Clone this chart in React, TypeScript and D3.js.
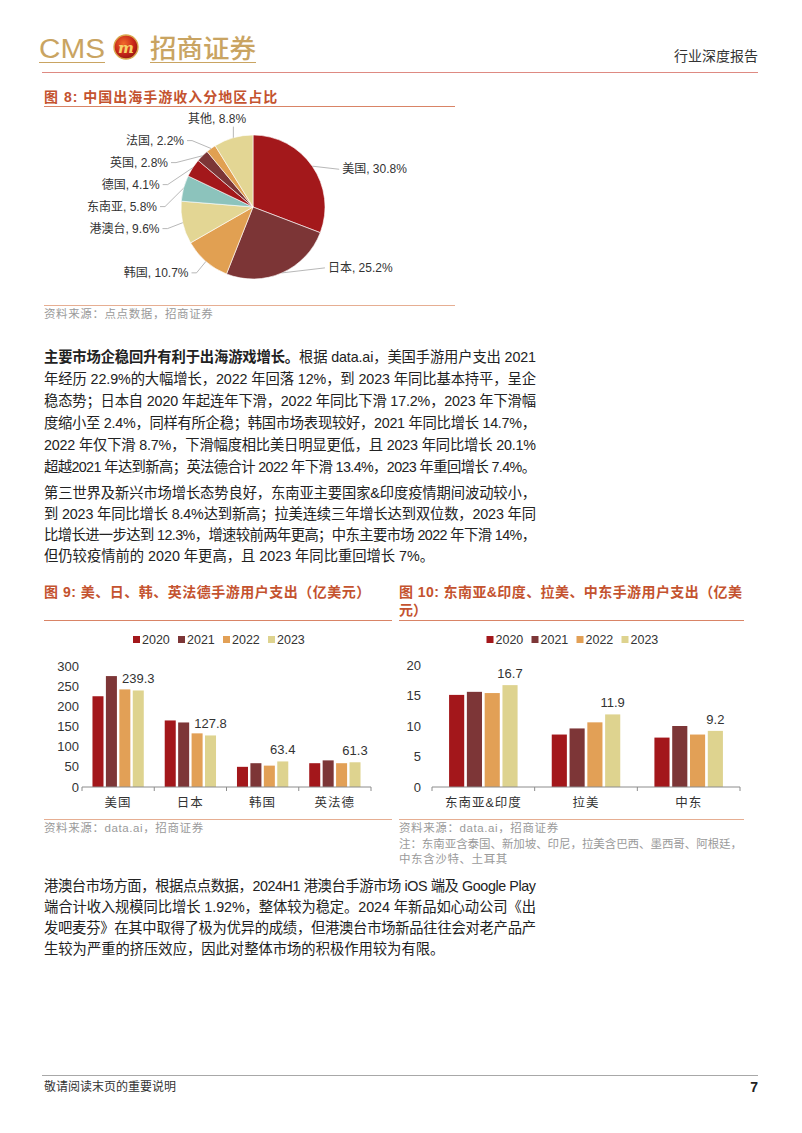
import React from 'react';
import * as d3 from 'd3';

// ---------- data ----------
const pieLabels = ['美国', '日本', '韩国', '港澳台', '东南亚', '德国', '英国', '法国', '其他'];
const pieValues = [30.8, 25.2, 10.7, 9.6, 5.8, 4.1, 2.8, 2.2, 8.8];
const pieColors = ['#A3181B', '#7C3536', '#E1A052', '#E3D694', '#8CC3BC', '#A3181B', '#7C3536', '#E1A052', '#E3D694'];

const years = ['2020', '2021', '2022', '2023'];
const yearColors = ['#A3171B', '#7D3637', '#E2A056', '#DED38F'];

const c1Categories = ['美国', '日本', '韩国', '英法德'];
const c1v2020 = [225, 165, 50, 59];
const c1v2021 = [275, 160, 59, 66];
const c1v2022 = [242, 133, 53, 59];
const c1v2023 = [239.3, 127.8, 63.4, 61.3];
const c1Ticks = [0, 50, 100, 150, 200, 250, 300];

const c2Categories = ['东南亚&印度', '拉美', '中东'];
const c2v2020 = [15.1, 8.6, 8.1];
const c2v2021 = [15.6, 9.6, 10.0];
const c2v2022 = [15.4, 10.6, 8.6];
const c2v2023 = [16.7, 11.9, 9.2];
const c2Ticks = [0, 5, 10, 15, 20];

const para1Lead = '主要市场企稳回升有利于出海游戏增长。';
const para1 = [
  '根据 data.ai，美国手游用户支出 2021',
  '年经历 22.9%的大幅增长，2022 年回落 12%，到 2023 年同比基本持平，呈企',
  '稳态势；日本自 2020 年起连年下滑，2022 年同比下滑 17.2%，2023 年下滑幅',
  '度缩小至 2.4%，同样有所企稳；韩国市场表现较好，2021 年同比增长 14.7%，',
  '2022 年仅下滑 8.7%，下滑幅度相比美日明显更低，且 2023 年同比增长 20.1%',
  '超越2021 年达到新高；英法德合计 2022 年下滑 13.4%，2023 年重回增长 7.4%。',
];
const para2 = [
  '第三世界及新兴市场增长态势良好，东南亚主要国家&印度疫情期间波动较小，',
  '到 2023 年同比增长 8.4%达到新高；拉美连续三年增长达到双位数，2023 年同',
  '比增长进一步达到 12.3%，增速较前两年更高；中东主要市场 2022 年下滑 14%，',
  '但仍较疫情前的 2020 年更高，且 2023 年同比重回增长 7%。',
];
const para3 = [
  '港澳台市场方面，根据点点数据，2024H1 港澳台手游市场 iOS 端及 Google Play',
  '端合计收入规模同比增长 1.92%，整体较为稳定。2024 年新品如心动公司《出',
  '发吧麦芬》在其中取得了极为优异的成绩，但港澳台市场新品往往会对老产品产',
  '生较为严重的挤压效应，因此对整体市场的积极作用较为有限。',
];

// ---------- styles ----------
const FONT = '"Liberation Sans", Arial, "Noto Sans CJK SC", sans-serif';
const TITLE_COLOR = '#C4532F';
const TITLE_LINE = '#D98466';
const SRC_LINE = '#E6AE92';
const GOLD = '#C9A462';
const TEXT = '#222';

function Pie() {
  const cx = 253, cy = 207, R = 72, LR = 95;
  const arcs = d3.pie<number>().sort(null).value((d) => d)(pieValues);
  const arcGen = d3.arc<d3.PieArcDatum<number>>().innerRadius(0).outerRadius(R);
  type L = { i: number; s: number; c: number; ex: number; ey: number; x: number; y: number; anchor: string; top: boolean };
  const items: L[] = arcs.map((a, i) => {
    const mid = (a.startAngle + a.endAngle) / 2;
    const s = Math.sin(mid), c = Math.cos(mid);
    return { i, s, c, ex: cx + R * s, ey: cy - R * c, x: 0, y: cy - LR * c, anchor: 'end', top: false };
  });
  items.filter((d) => d.s >= 0).forEach((d) => {
    d.y = cy - 0.7 * LR * d.c;
    d.x = cx + Math.sqrt(Math.max(0, LR * LR - (d.y - cy) ** 2)) + 2;
    d.anchor = 'start';
  });
  const left = items.filter((d) => d.s < 0).sort((a, b) => a.y - b.y);
  left.forEach((d, k) => {
    if (k > 0) d.y = Math.max(d.y, left[k - 1].y + 22);
    if (Math.abs(d.s) < 0.35 && d.c > 0) {
      d.top = true;
      d.anchor = 'middle';
      d.x = cx + LR * d.s - 10;
      d.y += 3;
    } else if (d.c < -0.5) {
      d.y -= 6;
      d.x = cx - Math.sqrt(Math.max(0, LR * LR - (d.y - cy) ** 2)) + 4;
    } else {
      d.x = cx - Math.sqrt(Math.max(0, LR * LR - (d.y - cy) ** 2)) - 1;
    }
  });
  return (
    <g>
      {arcs.map((a, i) => (
        <path key={i} d={arcGen(a) || ''} transform={`translate(${cx},${cy})`} fill={pieColors[i]} stroke="#fff" strokeWidth={0.6} />
      ))}
      {items.map((d) => {
        let pts: [number, number][];
        if (d.top) pts = [[d.ex, d.ey], [d.ex, d.y + 8]];
        else if (d.anchor === 'start') pts = [[d.ex, d.ey], [d.x - 3, d.y]];
        else pts = [[d.ex, d.ey], [d.x + 8, d.y], [d.x + 3, d.y]];
        return (
          <g key={d.i}>
            <path d={d3.line()(pts) || ''} fill="none" stroke="#A6A6A6" strokeWidth={0.8} />
            <text x={d.x} y={d.y} dy="0.35em" textAnchor={d.anchor} fontSize={12} fill="#333" fontFamily={FONT}>
              {`${pieLabels[d.i]}, ${pieValues[d.i].toFixed(1)}%`}
            </text>
          </g>
        );
      })}
    </g>
  );
}

type BarProps = {
  categories: string[];
  series: number[][];
  ticks: number[];
  max: number;
  x0: number;
  x1: number;
  yBase: number;
  yTop: number;
  tickX: number;
  pIn: number;
  pOut: number;
  panel: [number, number];
};

function BarChart(p: BarProps) {
  const x = d3.scaleBand<string>().domain(p.categories).range([p.x0, p.x1]).padding(0);
  const xs = d3.scaleBand<string>().domain(years).range([0, x.bandwidth()]).paddingInner(p.pIn).paddingOuter(p.pOut);
  const y = d3.scaleLinear().domain([0, p.max]).range([p.yBase, p.yTop]);
  const itemW = 45;
  const legendW = itemW * years.length - 10;
  const lx0 = (p.panel[0] + p.panel[1]) / 2 - legendW / 2;
  const bounds = [...p.categories.map((c) => x(c) as number), p.x1];
  const last = years.length - 1;
  return (
    <g fontFamily={FONT}>
      {years.map((yr, k) => (
        <g key={yr} transform={`translate(${lx0 + k * itemW},640)`}>
          <rect x={0} y={-4} width={7} height={7} fill={yearColors[k]} />
          <text x={9} y={0} dy="0.35em" fontSize={12.5} fill="#333">{yr}</text>
        </g>
      ))}
      {p.ticks.map((t) => (
        <text key={t} x={p.tickX} y={y(t)} dy="0.35em" textAnchor="end" fontSize={13} fill="#333">{t}</text>
      ))}
      {p.categories.map((c, ci) => (
        <g key={c}>
          {years.map((yr, k) => {
            const v = p.series[k][ci];
            return (
              <rect key={yr} x={(x(c) as number) + (xs(yr) as number)} y={y(v)} width={xs.bandwidth()} height={p.yBase - y(v)} fill={yearColors[k]} />
            );
          })}
          <text x={(x(c) as number) + (xs(years[last]) as number) + xs.bandwidth() / 2} y={y(p.series[last][ci]) - 7} textAnchor="middle" fontSize={13} fill="#333">
            {p.series[last][ci]}
          </text>
          <text x={(x(c) as number) + x.bandwidth() / 2} y={p.yBase + 16} dy="0.35em" textAnchor="middle" fontSize={12.5} fill="#333" letterSpacing={1}>{c}</text>
        </g>
      ))}
      <line x1={p.x0} x2={p.x1} y1={p.yBase} y2={p.yBase} stroke="#8C8C8C" strokeWidth={1} />
      {bounds.map((b, i) => (
        <line key={i} x1={b} x2={b} y1={p.yBase} y2={p.yBase + 4} stroke="#8C8C8C" strokeWidth={1} />
      ))}
    </g>
  );
}

const PARA_W = 492;

function Para({ lines, y0, step, lead }: { lines: string[]; y0: number; step: number; lead?: string }) {
  return (
    <g fontFamily={FONT} fontSize={14.3} fill={TEXT}>
      {lines.map((l, i) => {
        const full = i < lines.length - 1 || lead !== undefined;
        return (
          <text key={i} x={44} y={y0 + i * step} dy="0.35em" {...(full ? { textLength: PARA_W, lengthAdjust: 'spacing' } : {})}>
            {i === 0 && lead ? <tspan fontWeight={700}>{lead}</tspan> : null}
            {l}
          </text>
        );
      })}
    </g>
  );
}

export default function App() {
  return (
    <div style={{ position: 'absolute', left: 0, top: 0, width: 802, height: 1133, background: '#fff' }}>
      <svg width={802} height={1133} viewBox="0 0 802 1133" style={{ display: 'block' }}>
        <defs>
          <radialGradient id="logoG" cx="40%" cy="35%" r="70%">
            <stop offset="0%" stopColor="#F06A2A" />
            <stop offset="60%" stopColor="#C8261A" />
            <stop offset="100%" stopColor="#8E1512" />
          </radialGradient>
        </defs>
        {/* header */}
        <text x={39} y={58} fontFamily='"Liberation Sans", Arial, sans-serif' fontSize={27} fill={GOLD} textLength={66} lengthAdjust="spacingAndGlyphs">CMS</text>
        <line x1={39} x2={105} y1={62.5} y2={62.5} stroke={GOLD} strokeWidth={1} />
        <circle cx={126} cy={47} r={12} fill="url(#logoG)" stroke="#D9A94E" strokeWidth={1.4} />
        <text x={126} y={52.5} textAnchor="middle" fontFamily='"DejaVu Serif", serif' fontStyle="italic" fontWeight={700} fontSize={15} fill="#F7D36A">m</text>
        <text x={150} y={58} fontFamily='"Noto Sans CJK SC", sans-serif' fontWeight={500} fontSize={26} fill={GOLD} textLength={106} lengthAdjust="spacingAndGlyphs">招商证券</text>
        <line x1={150} x2={256} y1={62.5} y2={62.5} stroke={GOLD} strokeWidth={1} />
        <text x={758} y={61} textAnchor="end" fontFamily={FONT} fontSize={14} fill="#333">行业深度报告</text>
        <line x1={42} x2={758} y1={72.5} y2={72.5} stroke="#DE8A82" strokeWidth={1} />

        {/* figure 8 */}
        <text x={44} y={102} fontFamily={FONT} fontSize={14} fontWeight={700} fill={TITLE_COLOR} letterSpacing={1}>图 8:  中国出海手游收入分地区占比</text>
        <line x1={44} x2={455} y1={106.5} y2={106.5} stroke={TITLE_LINE} strokeWidth={1} />
        <Pie />
        <line x1={44} x2={455} y1={305.5} y2={305.5} stroke={SRC_LINE} strokeWidth={1} />
        <text x={44} y={314} dy="0.35em" fontFamily={FONT} fontSize={11.5} fill="#9A9A9A" letterSpacing={0.6}>资料来源：点点数据，招商证券</text>

        <Para lines={para1} y0={357} step={22} lead={para1Lead} />
        <Para lines={para2} y0={493} step={21} />

        {/* figure 9 */}
        <text x={44} y={597} fontFamily={FONT} fontSize={14} fontWeight={700} fill={TITLE_COLOR} letterSpacing={0.5}>图 9:  美、日、韩、英法德手游用户支出（亿美元）</text>
        <line x1={44} x2={392} y1={620.5} y2={620.5} stroke={TITLE_LINE} strokeWidth={1} />
        <BarChart categories={c1Categories} series={[c1v2020, c1v2021, c1v2022, c1v2023]} ticks={c1Ticks} max={300}
          x0={82} x1={371} yBase={787} yTop={666} tickX={79} pIn={0.18} pOut={0.78} panel={[44, 392]} />
        <line x1={44} x2={392} y1={819.5} y2={819.5} stroke={SRC_LINE} strokeWidth={1} />
        <text x={44} y={828} dy="0.35em" fontFamily={FONT} fontSize={11.5} fill="#9A9A9A" letterSpacing={0.6}>资料来源：data.ai，招商证券</text>

        {/* figure 10 */}
        <text x={399} y={597} fontFamily={FONT} fontSize={14} fontWeight={700} fill={TITLE_COLOR} textLength={343} lengthAdjust="spacing">图 10:  东南亚&amp;印度、拉美、中东手游用户支出（亿美</text>
        <text x={399} y={615} fontFamily={FONT} fontSize={14} fontWeight={700} fill={TITLE_COLOR}>元）</text>
        <line x1={399} x2={744} y1={620.5} y2={620.5} stroke={TITLE_LINE} strokeWidth={1} />
        <BarChart categories={c2Categories} series={[c2v2020, c2v2021, c2v2022, c2v2023]} ticks={c2Ticks} max={20}
          x0={432} x1={740} yBase={787} yTop={665} tickX={421} pIn={0.15} pOut={0.96} panel={[399, 744]} />
        <line x1={399} x2={744} y1={819.5} y2={819.5} stroke={SRC_LINE} strokeWidth={1} />
        <g fontFamily={FONT} fontSize={11.5} fill="#9A9A9A">
          <text x={399} y={828} dy="0.35em" letterSpacing={0.6}>资料来源：data.ai，招商证券</text>
          <text x={399} y={844} dy="0.35em" textLength={343} lengthAdjust="spacing">注：东南亚含泰国、新加坡、印尼，拉美含巴西、墨西哥、阿根廷，</text>
          <text x={399} y={859} dy="0.35em" letterSpacing={0.6}>中东含沙特、土耳其</text>
        </g>

        <Para lines={para3} y0={886} step={21} />

        {/* footer */}
        <line x1={42} x2={758} y1={1075.5} y2={1075.5} stroke="#A8A8A8" strokeWidth={1} />
        <text x={44} y={1087} dy="0.35em" fontFamily={FONT} fontSize={12} fill="#333">敬请阅读末页的重要说明</text>
        <text x={758} y={1087} dy="0.35em" textAnchor="end" fontFamily={FONT} fontSize={14} fontWeight={700} fill="#222">7</text>
      </svg>
    </div>
  );
}
